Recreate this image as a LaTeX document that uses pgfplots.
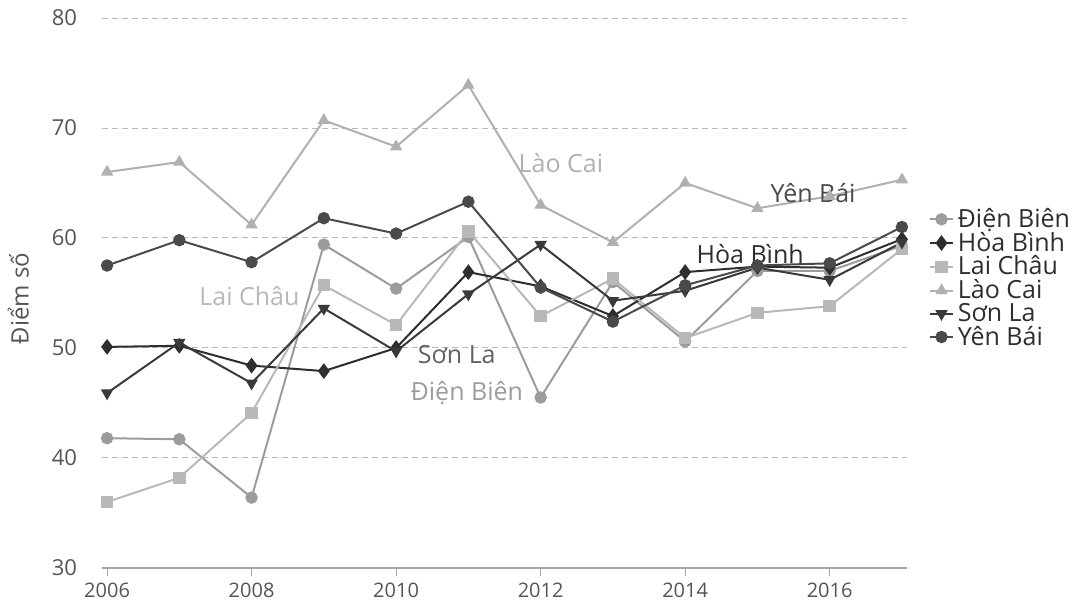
\documentclass[border=0pt]{standalone}
\usepackage{pgfplots}
\pgfplotsset{compat=1.18}
\usepackage{fontspec}
\setmainfont{Open Sans}
\definecolor{cDB}{HTML}{9C9C9C}
\definecolor{cHB}{HTML}{2E2E2E}
\definecolor{cLC}{HTML}{B8B8B8}
\definecolor{cLK}{HTML}{B0B0B0}
\definecolor{cSL}{HTML}{3A3A3A}
\definecolor{cYB}{HTML}{4A4A4A}
\definecolor{txt}{HTML}{555555}
\begin{document}
\begin{tikzpicture}
\useasboundingbox (-51pt,-21pt) rectangle (493.5pt,284pt);
\begin{axis}[
  at={(0,0)}, anchor=south west,
  scale only axis, width=402.5pt, height=275pt,
  xmin=2005.93, xmax=2017.07, ymin=30, ymax=80,
  xtick={2006,2008,...,2016}, ytick={30,40,...,80},
  xticklabel style={/pgf/number format/1000 sep=, color=txt, font=\fontsize{10}{11}\selectfont},
  yticklabel style={color=txt, font=\fontsize{11}{12}\selectfont, xshift=-5pt},
  /pgf/number format/assume math mode=true,
  axis x line*=bottom, axis y line*=left,
  x axis line style={color=gray!70, line width=0.8pt, -},
  y axis line style={draw=none},
  ytick style={draw=none},
  xtick style={color=gray!70}, tick align=outside, major tick length=4pt,
  ymajorgrids, grid style={gray!55, densely dashed, line width=0.5pt},
  clip=false,
  ylabel={Điểm số}, ylabel style={at={(axis description cs:-0.104,0.49)}, anchor=center, color=txt, font=\fontsize{12}{14}\selectfont},
  legend style={at={(axis description cs:1.027,0.527)}, anchor=west, draw=none, fill=none,
    font=\fontsize{12.5}{12.3}\selectfont, text=cHB, row sep=-3.2pt, inner sep=0pt},
  legend cell align=left,
  legend image code/.code={\draw[mark repeat=2,mark phase=2] plot coordinates {(0cm,0cm) (0.2cm,0cm) (0.4cm,0cm)};},
  every axis plot/.append style={line width=1pt, mark size=2.6pt},
]
\addplot[color=cDB, mark=*, mark options={fill=cDB}] coordinates {(2006,41.8)(2007,41.7)(2008,36.4)(2009,59.4)(2010,55.4)(2011,60.1)(2012,45.5)(2013,56.0)(2014,50.6)(2015,57.0)(2016,57.0)(2017,59.3)};
\addlegendentry{Điện Biên}
\addplot[color=cHB, mark=diamond*, mark options={fill=cHB, scale=1.2}] coordinates {(2006,50.1)(2007,50.2)(2008,48.4)(2009,47.9)(2010,50.0)(2011,56.9)(2012,55.6)(2013,52.9)(2014,56.9)(2015,57.4)(2016,57.3)(2017,59.9)};
\addlegendentry{Hòa Bình}
\addplot[color=cLC, mark=square*, mark options={fill=cLC}] coordinates {(2006,36.0)(2007,38.2)(2008,44.1)(2009,55.7)(2010,52.1)(2011,60.6)(2012,52.9)(2013,56.3)(2014,50.9)(2015,53.2)(2016,53.8)(2017,59.0)};
\addlegendentry{Lai Châu}
\addplot[color=cLK, mark=triangle*, mark options={fill=cLK}] coordinates {(2006,66.0)(2007,66.9)(2008,61.2)(2009,70.7)(2010,68.3)(2011,73.9)(2012,63.0)(2013,59.6)(2014,65.0)(2015,62.7)(2016,63.8)(2017,65.3)};
\addlegendentry{Lào Cai}
\addplot[color=cSL, mark=triangle*, mark options={fill=cSL, rotate=180}] coordinates {(2006,45.9)(2007,50.5)(2008,46.8)(2009,53.6)(2010,49.7)(2011,54.9)(2012,59.4)(2013,54.3)(2014,55.2)(2015,57.3)(2016,56.2)(2017,59.6)};
\addlegendentry{Sơn La}
\addplot[color=cYB, mark=*, mark options={fill=cYB}] coordinates {(2006,57.5)(2007,59.8)(2008,57.8)(2009,61.8)(2010,60.4)(2011,63.3)(2012,55.5)(2013,52.4)(2014,55.7)(2015,57.5)(2016,57.7)(2017,61.0)};
\addlegendentry{Yên Bái}
\node[color=cLK, font=\fontsize{12.5}{14}\selectfont] at (axis cs:2012.28,66.8) {Lào Cai};
\node[color=cYB, font=\fontsize{12.5}{14}\selectfont] at (axis cs:2015.77,64.1) {Yên Bái};
\node[color=cHB, font=\fontsize{12.5}{14}\selectfont] at (axis cs:2014.9,58.5) {Hòa Bình};
\node[color=cLC, font=\fontsize{12.5}{14}\selectfont] at (axis cs:2007.97,54.7) {Lai Châu};
\node[color=cSL!80, font=\fontsize{12.5}{14}\selectfont] at (axis cs:2010.84,49.4) {Sơn La};
\node[color=cDB, font=\fontsize{12.5}{14}\selectfont] at (axis cs:2010.98,45.9) {Điện Biên};
\end{axis}
\end{tikzpicture}
\end{document}
